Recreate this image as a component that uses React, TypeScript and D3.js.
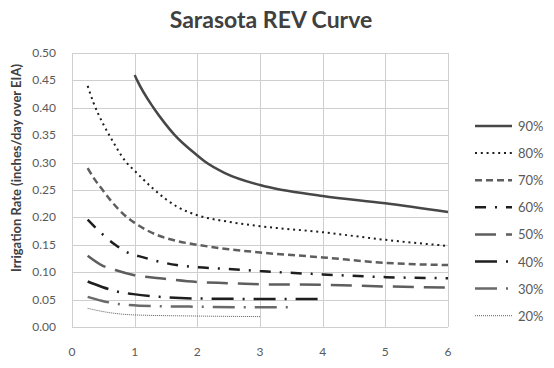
import { useEffect, useRef } from 'react';
import * as d3 from 'd3';

// Irrigation rate curves, one per REV percentage: [years, inches/day]
const rev90: [number, number][] = [[1, 0.46], [1.04, 0.45], [1.3, 0.4], [1.48, 0.372], [1.64, 0.35], [2, 0.313], [2.12, 0.302], [2.44, 0.281], [3, 0.259], [4, 0.239], [5, 0.226], [6, 0.21]];
const rev80: [number, number][] = [[0.25, 0.44], [0.34, 0.41], [0.5, 0.37], [0.61, 0.347], [0.87, 0.3], [1, 0.285], [1.27, 0.255], [1.5, 0.233], [1.67, 0.22], [2, 0.204], [2.5, 0.192], [3, 0.184], [4, 0.173], [5, 0.159], [6, 0.148]];
const rev70: [number, number][] = [[0.25, 0.29], [0.37, 0.268], [0.45, 0.256], [0.61, 0.232], [0.87, 0.201], [1, 0.19], [1.14, 0.18], [1.4, 0.166], [1.67, 0.157], [2, 0.15], [2.5, 0.142], [3, 0.136], [4, 0.127], [5, 0.117], [6, 0.113]];
const rev60: [number, number][] = [[0.25, 0.196], [0.47, 0.171], [0.69, 0.15], [0.87, 0.137], [1.14, 0.127], [1.4, 0.119], [1.67, 0.113], [2, 0.109], [2.5, 0.106], [3, 0.102], [4, 0.096], [5, 0.091], [6, 0.089]];
const rev50: [number, number][] = [[0.25, 0.13], [0.47, 0.113], [0.69, 0.104], [0.98, 0.095], [1.4, 0.089], [2, 0.082], [2.5, 0.08], [3, 0.078], [4, 0.077], [5, 0.074], [6, 0.072]];
const rev40: [number, number][] = [[0.25, 0.083], [0.47, 0.0735], [0.71, 0.065], [0.98, 0.06], [1.4, 0.055], [2, 0.052], [2.5, 0.0515], [3, 0.051], [4, 0.051]];
const rev30: [number, number][] = [[0.25, 0.055], [0.47, 0.048], [0.74, 0.042], [1.08, 0.039], [2, 0.037], [3, 0.036], [3.5, 0.036]];
const rev20: [number, number][] = [[0.25, 0.034], [0.61, 0.026], [1, 0.022], [2, 0.02], [3, 0.019]];

const seriesNames = ['90%', '80%', '70%', '60%', '50%', '40%', '30%', '20%'];
const seriesData = [rev90, rev80, rev70, rev60, rev50, rev40, rev30, rev20];

const xTicks = [0, 1, 2, 3, 4, 5, 6];
const yTicks = [0, 0.05, 0.1, 0.15, 0.2, 0.25, 0.3, 0.35, 0.4, 0.45, 0.5];

const styles = [
  { color: '#474747', width: 2.5, dash: '' },
  { color: '#1e1e1e', width: 2, dash: '2 3.8' },
  { color: '#5e5e5e', width: 2.5, dash: '7 4' },
  { color: '#1e1e1e', width: 2.5, dash: '11 9 2 9' },
  { color: '#5e5e5e', width: 2.5, dash: '21 10' },
  { color: '#1e1e1e', width: 2.5, dash: '22 9 2 9' },
  { color: '#6a6a6a', width: 2.5, dash: '22 9 2 9' },
  { color: '#333333', width: 0.8, dash: '1 1' },
];

export default function App() {
  const svgRef = useRef<SVGSVGElement>(null);

  useEffect(() => {
    if (!svgRef.current) return;
    document.body.style.margin = '0';

    const svg = d3.select(svgRef.current);
    svg.selectAll('*').remove();

    const width = 554;
    const height = 368;
    const plot = { left: 72, right: 448, top: 53, bottom: 327 };
    const font = 'Lato, "Open Sans", sans-serif';

    svg.attr('width', width).attr('height', height);
    svg.append('rect').attr('width', width).attr('height', height).attr('fill', '#fff');

    const x = d3.scaleLinear().domain([0, 6]).range([plot.left, plot.right]);
    const y = d3.scaleLinear().domain([0, 0.5]).range([plot.bottom, plot.top]);

    // Grid
    const grid = svg.append('g').attr('stroke', '#cfcfcf').attr('stroke-width', 1);
    grid.selectAll('line.h')
      .data(yTicks)
      .enter()
      .append('line')
      .attr('x1', plot.left)
      .attr('x2', plot.right)
      .attr('y1', d => Math.round(y(d)) + 0.5)
      .attr('y2', d => Math.round(y(d)) + 0.5);
    grid.selectAll('line.v')
      .data(xTicks)
      .enter()
      .append('line')
      .attr('x1', d => Math.round(x(d)) + 0.5)
      .attr('x2', d => Math.round(x(d)) + 0.5)
      .attr('y1', plot.top)
      .attr('y2', plot.bottom);

    // Tick labels
    svg.append('g')
      .selectAll('text')
      .data(yTicks)
      .enter()
      .append('text')
      .attr('x', 56)
      .attr('y', d => y(d) + 4)
      .attr('text-anchor', 'end')
      .attr('fill', '#595959')
      .style('font-family', font)
      .style('font-size', '12px')
      .text(d => d3.format('.2f')(d));

    svg.append('g')
      .selectAll('text')
      .data(xTicks)
      .enter()
      .append('text')
      .attr('x', d => x(d))
      .attr('y', 356)
      .attr('text-anchor', 'middle')
      .attr('fill', '#595959')
      .style('font-family', font)
      .style('font-size', '12px')
      .text(d => String(d));

    // Curves
    const line = d3.line<[number, number]>()
      .x(d => x(d[0]))
      .y(d => y(d[1]))
      .curve(d3.curveMonotoneX);

    seriesData.forEach((data, i) => {
      const s = styles[i];
      svg.append('path')
        .attr('d', line(data) as string)
        .attr('fill', 'none')
        .attr('stroke', s.color)
        .attr('stroke-width', s.width)
        .attr('stroke-dasharray', s.dash || null);
    });

    // Legend
    const legend = svg.append('g');
    seriesNames.forEach((name, i) => {
      const s = styles[i];
      const ly = 126 + i * 27.1;
      legend.append('line')
        .attr('x1', 475)
        .attr('x2', 512)
        .attr('y1', ly)
        .attr('y2', ly)
        .attr('stroke', s.color)
        .attr('stroke-width', s.width)
        .attr('stroke-dasharray', s.dash || null);
      legend.append('text')
        .attr('x', 518)
        .attr('y', ly + 5)
        .attr('fill', '#595959')
        .style('font-family', font)
        .style('font-size', '13px')
        .text(name);
    });

    // Title
    svg.append('text')
      .attr('x', 271)
      .attr('y', 28)
      .attr('text-anchor', 'middle')
      .attr('fill', '#404040')
      .style('font-family', font)
      .style('font-size', '23px')
      .style('font-weight', 'bold')
      .text('Sarasota REV Curve');

    // Y axis title
    svg.append('text')
      .attr('transform', 'translate(21,168) rotate(-90)')
      .attr('text-anchor', 'middle')
      .attr('fill', '#404040')
      .style('font-family', font)
      .style('font-size', '13px')
      .style('font-weight', 'bold')
      .text('Irrigation Rate (inches/day over EIA)');
  }, []);

  return <svg ref={svgRef} style={{ display: 'block' }}></svg>;
}
